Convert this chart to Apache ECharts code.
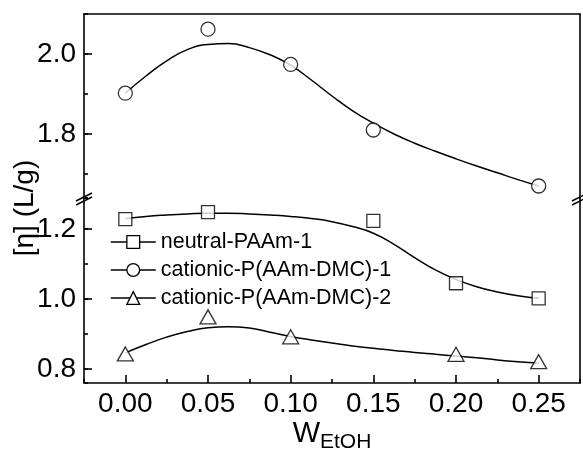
<!DOCTYPE html>
<html><head><meta charset="utf-8">
<script src="https://cdn.jsdelivr.net/npm/echarts@6/dist/echarts.min.js"></script>
<style>html,body{margin:0;padding:0;background:#fff}#c{width:583px;height:454px}</style>
</head><body><div id="c"></div>
<script>
// ---- data ----
const seriesNames = ['neutral-PAAm-1', 'cationic-P(AAm-DMC)-1', 'cationic-P(AAm-DMC)-2'];

const neutralX = [0, 0.05, 0.15, 0.20, 0.25];
const neutralY = [1.228, 1.248, 1.223, 1.045, 1.002];

const cation1X = [0, 0.05, 0.10, 0.15, 0.25];
const cation1Y = [1.902, 2.062, 1.974, 1.810, 1.670];

const cation2X = [0, 0.05, 0.10, 0.20, 0.25];
const cation2Y = [0.843, 0.949, 0.892, 0.842, 0.821];

// fitted curves
const fitX = [0, 0.0125, 0.025, 0.0375, 0.05, 0.0625, 0.075, 0.0875, 0.1, 0.1125, 0.125,
              0.1375, 0.15, 0.1625, 0.175, 0.1875, 0.2, 0.2125, 0.225, 0.2375, 0.25];
const neutralFit = [1.230, 1.236, 1.240, 1.243, 1.245, 1.245, 1.243, 1.240, 1.236, 1.230, 1.221,
                    1.207, 1.188, 1.156, 1.118, 1.083, 1.056, 1.035, 1.020, 1.009, 1.002];
const cation1Fit = [1.902, 1.945, 1.983, 2.011, 2.024, 2.026, 2.016, 1.998, 1.972, 1.935, 1.895,
                    1.858, 1.827, 1.800, 1.777, 1.757, 1.738, 1.720, 1.703, 1.686, 1.670];
const cation2Fit = [0.846, 0.870, 0.891, 0.907, 0.918, 0.921, 0.917, 0.905, 0.893, 0.883, 0.874,
                    0.866, 0.859, 0.853, 0.847, 0.842, 0.837, 0.832, 0.826, 0.821, 0.817];

// tick labels
const xTickLabels = ['0.00', '0.05', '0.10', '0.15', '0.20', '0.25'];
const yUpperLabels = ['1.8', '2.0'];
const yLowerLabels = ['0.8', '1.0', '1.2'];

const xRange = [-0.025, 0.275];
const yUpperRange = [1.64, 2.1];
const yLowerRange = [0.76, 1.2886];

// ---- layout ----
const FONT = 'Liberation Sans, Arial, Helvetica, sans-serif';
const GL = 84, GR = 3, GT = 14, BRK = 198, GB = 383, H = 454, W = 583;

const pair = (xs, ys) => xs.map((x, i) => [x, ys[i]]);
const axisLineStyle = { color: '#000', width: 1.6 };
const tickStyle = { color: '#000', width: 1.6 };
const mk = { color: '#fff', borderColor: '#000', borderWidth: 1.3 };
const labelBase = { show: true, color: '#000', fontSize: 28, fontFamily: FONT, showMinLabel: false, showMaxLabel: false };
const onlyLabels = (list, digits) => v => { const s = (+v).toFixed(digits); return list.indexOf(s) >= 0 ? s : ''; };

function valAxis(extra) {
  return Object.assign({
    type: 'value', splitLine: { show: false },
    axisLine: { show: false, onZero: false }, axisTick: { show: false }, axisLabel: { show: false }
  }, extra);
}

const xAxes = [
  // 0: upper grid, top border
  valAxis({ gridIndex: 0, position: 'top', min: xRange[0], max: xRange[1],
            axisLine: { show: true, onZero: false, lineStyle: axisLineStyle } }),
  // 1: lower grid, main bottom axis with major ticks & labels
  valAxis({ gridIndex: 1, position: 'bottom', min: xRange[0], max: xRange[1], splitNumber: 6,
            axisLine: { show: true, onZero: false, lineStyle: axisLineStyle },
            axisTick: { show: true, inside: true, length: 8, lineStyle: tickStyle },
            axisLabel: Object.assign({ margin: 7, formatter: onlyLabels(xTickLabels, 2) }, labelBase),
            name: '{w|W}{s|EtOH}', nameLocation: 'middle', nameGap: 36,
            nameTextStyle: { rich: {
              w: { fontSize: 29, lineHeight: 29, fontFamily: FONT, color: '#000', verticalAlign: 'top' },
              s: { fontSize: 21, lineHeight: 21, fontFamily: FONT, color: '#000', verticalAlign: 'top', padding: [13, 0, 0, 0] }
            } } }),
  // 2: lower grid, minor ticks (counted from min)
  valAxis({ gridIndex: 1, position: 'bottom', min: xRange[0], max: xRange[1], interval: 0.05,
            axisTick: { show: true, inside: true, length: 4, lineStyle: tickStyle } }),
  // 3: name-host grid
  valAxis({ gridIndex: 2, show: false, min: xRange[0], max: xRange[1] })
];

const yAxes = [
  // 0: upper main
  valAxis({ gridIndex: 0, position: 'left', min: yUpperRange[0], max: yUpperRange[1], splitNumber: 2,
            axisLine: { show: true, onZero: false, lineStyle: axisLineStyle },
            axisTick: { show: true, inside: true, length: 8, lineStyle: tickStyle },
            axisLabel: Object.assign({ margin: 8, formatter: onlyLabels(yUpperLabels, 1) }, labelBase) }),
  // 1: upper minor
  valAxis({ gridIndex: 0, position: 'left', min: yUpperRange[0], max: yUpperRange[1], splitNumber: 5,
            axisTick: { show: true, inside: true, length: 4, lineStyle: tickStyle } }),
  // 2: upper right border
  valAxis({ gridIndex: 0, position: 'right', min: yUpperRange[0], max: yUpperRange[1],
            axisLine: { show: true, onZero: false, lineStyle: axisLineStyle } }),
  // 3: lower main
  valAxis({ gridIndex: 1, position: 'left', min: yLowerRange[0], max: yLowerRange[1], splitNumber: 3,
            axisLine: { show: true, onZero: false, lineStyle: axisLineStyle },
            axisTick: { show: true, inside: true, length: 8, lineStyle: tickStyle },
            axisLabel: Object.assign({ margin: 8, formatter: onlyLabels(yLowerLabels, 1) }, labelBase) }),
  // 4: lower minor
  valAxis({ gridIndex: 1, position: 'left', min: yLowerRange[0], max: yLowerRange[1], splitNumber: 5,
            axisTick: { show: true, inside: true, length: 4, lineStyle: tickStyle } }),
  // 5: lower right border
  valAxis({ gridIndex: 1, position: 'right', min: yLowerRange[0], max: yLowerRange[1],
            axisLine: { show: true, onZero: false, lineStyle: axisLineStyle } }),
  // 6: axis title host
  valAxis({ gridIndex: 2, position: 'left', min: 0, max: 1,
            name: '[η] (L/g)', nameLocation: 'middle', nameGap: 45, nameRotate: 90,
            nameTextStyle: { fontSize: 28, fontFamily: FONT, color: '#000' } })
];

function breakMark(cx, coverTicks) {
  const kids = [];
  if (coverTicks) kids.push({ type: 'rect', shape: { x: cx + 1, y: BRK - 2, width: 9, height: 4 }, style: { fill: '#fff' } });
  kids.push(
    { type: 'polygon', shape: { points: [[cx - 8, BRK + 3], [cx + 8, BRK - 5], [cx + 8, BRK - 1], [cx - 8, BRK + 7]] },
      style: { fill: '#fff' } },
    { type: 'line', shape: { x1: cx - 8, y1: BRK + 3, x2: cx + 8, y2: BRK - 5 }, style: { stroke: '#000', lineWidth: 1.4 } },
    { type: 'line', shape: { x1: cx - 8, y1: BRK + 7, x2: cx + 8, y2: BRK - 1 }, style: { stroke: '#000', lineWidth: 1.4 } }
  );
  return { type: 'group', z: 100, children: kids };
}

const option = {
  animation: false,
  backgroundColor: '#fff',
  grid: [
    { left: GL, right: GR, top: GT, height: BRK - GT },
    { left: GL, right: GR, top: BRK, height: GB - BRK },
    { left: GL, right: GR, top: 33, bottom: H - GB }
  ],
  xAxis: xAxes,
  yAxis: yAxes,
  legend: {
    data: seriesNames, orient: 'vertical', left: 110, top: 231, padding: 0,
    itemWidth: 45, itemHeight: 16, itemGap: 6,
    textStyle: { fontSize: 21.5, fontFamily: FONT, color: '#000' },
    itemStyle: { color: '#fff', borderColor: '#000', borderWidth: 1.3 },
    lineStyle: { color: '#000', width: 1.5 },
    selectedMode: false
  },
  graphic: [breakMark(GL, true), breakMark(W - GR, false)],
  series: [
    { type: 'line', name: seriesNames[0], xAxisIndex: 1, yAxisIndex: 3, data: pair(fitX, neutralFit),
      smooth: true, showSymbol: false, symbol: 'rect', lineStyle: { color: '#000', width: 1.5 }, itemStyle: mk, silent: true },
    { type: 'line', name: seriesNames[1], xAxisIndex: 0, yAxisIndex: 0, data: pair(fitX, cation1Fit),
      smooth: true, showSymbol: false, symbol: 'circle', lineStyle: { color: '#000', width: 1.5 }, itemStyle: mk, silent: true },
    { type: 'line', name: seriesNames[2], xAxisIndex: 1, yAxisIndex: 3, data: pair(fitX, cation2Fit),
      smooth: true, showSymbol: false, symbol: 'triangle', lineStyle: { color: '#000', width: 1.5 }, itemStyle: mk, silent: true },
    { type: 'scatter', name: 'pts-neutral', xAxisIndex: 1, yAxisIndex: 3, data: pair(neutralX, neutralY),
      symbol: 'rect', symbolSize: 13, itemStyle: mk, z: 3 },
    { type: 'scatter', name: 'pts-cation1', xAxisIndex: 0, yAxisIndex: 0, data: pair(cation1X, cation1Y),
      symbol: 'circle', symbolSize: 14, itemStyle: mk, z: 3 },
    { type: 'scatter', name: 'pts-cation2', xAxisIndex: 1, yAxisIndex: 3, data: pair(cation2X, cation2Y),
      symbol: 'triangle', symbolSize: [16, 14], itemStyle: mk, z: 3 }
  ]
};

const chart = echarts.init(document.getElementById('c'));
chart.setOption(option);
</script>
</body></html>
